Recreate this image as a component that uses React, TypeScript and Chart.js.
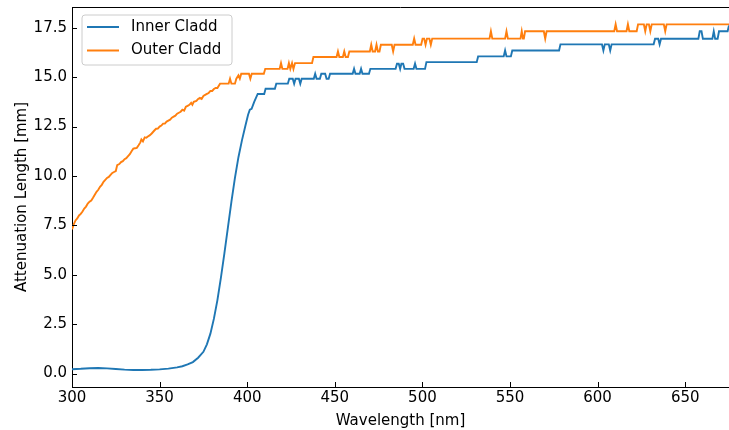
import React, { useEffect, useRef } from "react";
import { Chart, registerables } from "chart.js";

Chart.register(...registerables);

const seriesNames = ["Inner Cladd", "Outer Cladd"];
const seriesColors = ["#1f77b4", "#ff7f0e"];

const innerWavelength = [
  300, 305, 310, 315, 320, 325, 330, 335, 340, 345, 350, 355, 360, 363, 366, 369, 372, 375, 377, 379,
  381, 383, 385, 387, 389, 391, 393, 395, 397, 399, 400.5, 401.5, 402.5, 404, 406, 409.7, 410.5, 415.8, 416.6, 423.2,
  424, 426, 426.8, 427.6, 429.5, 430.3, 431.1, 438, 438.8, 439.6, 441.5, 442.3, 444.5, 445.3, 446.5, 447.3, 460.2, 461, 461.8, 464.2,
  465, 465.8, 469.5, 470.3, 484.7, 485.5, 486.5, 487.3, 488, 489, 489.8, 495, 495.8, 496.6, 501.5, 502.3, 531, 531.8, 546.4, 547.2,
  548, 550.5, 551.3, 578, 578.8, 602.5, 603.3, 604.1, 606.4, 607.2, 608, 632, 632.8, 634.6, 635.4, 636.2, 657.5, 658.3, 659.3, 660.1,
  665.5, 666.3, 667.1, 668.5, 669.3, 674.2, 675,
];
const innerAttenuation = [
  0.22, 0.24, 0.27, 0.28, 0.26, 0.23, 0.2, 0.18, 0.18, 0.19, 0.21, 0.25, 0.31, 0.37, 0.46, 0.58, 0.8, 1.1, 1.48, 2.02,
  2.78, 3.72, 4.85, 6.1, 7.4, 8.7, 9.9, 10.95, 11.8, 12.55, 13.1, 13.35, 13.4, 13.75, 14.15, 14.15, 14.41, 14.41, 14.67, 14.67,
  14.92, 14.92, 14.67, 14.92, 14.92, 14.67, 14.92, 14.92, 15.17, 14.92, 14.92, 15.17, 15.17, 14.92, 14.92, 15.17, 15.17, 15.42, 15.17, 15.17,
  15.42, 15.17, 15.17, 15.42, 15.42, 15.68, 15.68, 15.42, 15.68, 15.68, 15.42, 15.42, 15.68, 15.42, 15.42, 15.76, 15.76, 16.05, 16.05, 16.35,
  16.05, 16.05, 16.35, 16.35, 16.66, 16.66, 16.35, 16.66, 16.66, 16.35, 16.66, 16.66, 16.94, 16.94, 16.66, 16.94, 16.94, 17.32, 17.32, 16.94,
  16.94, 17.32, 16.94, 16.94, 17.32, 17.32, 17.62,
];

const outerWavelength = [
  300, 301, 302, 303, 304, 305, 306, 307, 308, 309, 310, 311, 312, 313, 314, 315, 316, 317, 318, 319,
  320, 321, 322, 323, 324, 325, 325.8, 327, 328, 329, 330, 331, 332, 333, 334, 335, 336, 337, 338, 339,
  339.6, 340.5, 341.5, 342.4, 343.3, 344.3, 345.5, 347, 348, 349, 350, 351, 352, 353, 354, 355, 356, 357, 358, 359,
  360, 361, 362, 363, 364, 365, 366, 367, 368, 368.7, 369.5, 371, 372, 373, 374, 375, 376, 377, 378, 379,
  380, 381, 382, 383, 384.5, 389.4, 390.2, 391, 393, 393.8, 395, 395.8, 396.6, 401, 401.8, 402.6, 409.5, 410.3, 418.5, 419.3,
  420.1, 423, 423.8, 424.6, 425.6, 426.4, 427.3, 437, 437.8, 451, 451.8, 452.6, 454.6, 455.4, 456.2, 457.5, 458.3, 470, 470.8, 471.6,
  473, 473.8, 474.6, 475.5, 476.3, 482.5, 483.3, 484.1, 494.5, 495.3, 496.1, 499.3, 500.1, 501, 501.8, 502.6, 504, 504.8, 505.6, 538.3,
  539.1, 539.9, 547.2, 548, 548.8, 556, 556.7, 557.4, 557.9, 558.6, 569.3, 570.1, 570.9, 609.5, 610.3, 611.1, 616.5, 617.3, 618.1, 622.3,
  623.1, 626.4, 627.2, 628, 629.3, 630.1, 630.9, 637.8, 638.6, 639.4, 675,
];
const outerAttenuation = [
  7.3, 7.55, 7.75, 7.85, 8.0, 8.08, 8.2, 8.35, 8.45, 8.6, 8.7, 8.76, 8.9, 9.05, 9.2, 9.3, 9.45, 9.55, 9.7, 9.8,
  9.9, 9.95, 10.05, 10.15, 10.2, 10.25, 10.55, 10.6, 10.7, 10.75, 10.85, 10.9, 11.0, 11.1, 11.25, 11.38, 11.4, 11.42, 11.55, 11.7,
  11.85, 11.75, 11.95, 11.93, 12.0, 12.05, 12.15, 12.3, 12.39, 12.4, 12.5, 12.55, 12.65, 12.65, 12.75, 12.8, 12.85, 12.95, 13.0, 13.05,
  13.15, 13.2, 13.25, 13.35, 13.3, 13.5, 13.55, 13.6, 13.7, 13.6, 13.75, 13.8, 13.9, 13.95, 13.9, 14.05, 14.1, 14.15, 14.2, 14.3,
  14.3, 14.4, 14.45, 14.45, 14.67, 14.67, 14.92, 14.67, 14.67, 14.92, 15.09, 14.92, 15.17, 15.17, 14.92, 15.17, 15.17, 15.42, 15.42, 15.71,
  15.42, 15.42, 15.71, 15.42, 15.71, 15.42, 15.71, 15.71, 16.02, 16.02, 16.3, 16.02, 16.02, 16.3, 16.02, 16.02, 16.3, 16.3, 16.64, 16.3,
  16.3, 16.64, 16.3, 16.3, 16.64, 16.64, 16.3, 16.64, 16.64, 16.95, 16.64, 16.64, 16.95, 16.95, 16.64, 16.95, 16.95, 16.64, 16.95, 16.95,
  17.32, 16.95, 16.95, 17.32, 16.95, 16.95, 17.32, 16.95, 16.95, 17.32, 17.32, 16.95, 17.32, 17.32, 17.67, 17.32, 17.32, 17.67, 17.32, 17.32,
  17.67, 17.67, 17.32, 17.67, 17.67, 17.32, 17.67, 17.67, 17.32, 17.67, 17.67,
];

const xTicks = [300, 350, 400, 450, 500, 550, 600, 650];
const yTicks = [0, 2.5, 5, 7.5, 10, 12.5, 15, 17.5];
const xTitle = "Wavelength [nm]";
const yTitle = "Attenuation Length [mm]";

const FONT = "'DejaVu Sans', sans-serif";

const framePlugin = {
  id: "frame",
  afterDraw(chart: any) {
    const { ctx, chartArea: a, scales } = chart;
    ctx.save();
    ctx.strokeStyle = "#000";
    ctx.lineWidth = 1;
    ctx.beginPath();
    ctx.moveTo(a.left, a.top + 0.5);
    ctx.lineTo(a.right, a.top + 0.5);
    for (const t of scales.x.ticks) {
      const px = Math.round(scales.x.getPixelForValue(t.value)) + 0.5;
      ctx.moveTo(px, a.bottom);
      ctx.lineTo(px, a.bottom - 5);
    }
    for (const t of scales.y.ticks) {
      const py = Math.round(scales.y.getPixelForValue(t.value)) + 0.5;
      ctx.moveTo(a.left, py);
      ctx.lineTo(a.left + 5, py);
    }
    ctx.stroke();

    // legend
    const lx = a.left + 10, ly = a.top + 8, lw = 150, lh = 50, r = 3;
    ctx.beginPath();
    ctx.moveTo(lx + r, ly);
    ctx.arcTo(lx + lw, ly, lx + lw, ly + lh, r);
    ctx.arcTo(lx + lw, ly + lh, lx, ly + lh, r);
    ctx.arcTo(lx, ly + lh, lx, ly, r);
    ctx.arcTo(lx, ly, lx + lw, ly, r);
    ctx.closePath();
    ctx.fillStyle = "rgba(255,255,255,0.8)";
    ctx.fill();
    ctx.strokeStyle = "#cccccc";
    ctx.lineWidth = 1;
    ctx.stroke();
    ctx.font = "15px " + FONT;
    ctx.textBaseline = "middle";
    ctx.textAlign = "left";
    seriesNames.forEach((name, i) => {
      const yy = ly + 12 + i * 23.5;
      ctx.strokeStyle = seriesColors[i];
      ctx.lineWidth = 2;
      ctx.beginPath();
      ctx.moveTo(lx + 5, yy);
      ctx.lineTo(lx + 37, yy);
      ctx.stroke();
      ctx.fillStyle = "#000";
      ctx.fillText(name, lx + 49, yy);
    });
    ctx.restore();
  },
};

export default function App() {
  const ref = useRef<HTMLCanvasElement>(null);
  useEffect(() => {
    if (!ref.current) return;
    const chart = new Chart(ref.current, {
      type: "line",
      data: {
        datasets: [
          {
            label: seriesNames[0],
            data: innerWavelength.map((x, i) => ({ x, y: innerAttenuation[i] })),
            borderColor: seriesColors[0],
            backgroundColor: seriesColors[0],
            borderWidth: 1.9,
            pointRadius: 0,
            tension: 0,
          },
          {
            label: seriesNames[1],
            data: outerWavelength.map((x, i) => ({ x, y: outerAttenuation[i] })),
            borderColor: seriesColors[1],
            backgroundColor: seriesColors[1],
            borderWidth: 1.9,
            pointRadius: 0,
            tension: 0,
          },
        ],
      },
      options: {
        responsive: false,
        animation: false,
        devicePixelRatio: 1,
        layout: { padding: { top: 7, right: 0, left: 0, bottom: 0 } },
        plugins: { legend: { display: false }, tooltip: { enabled: false } },
        scales: {
          x: {
            type: "linear",
            min: 300,
            max: 675,
            grid: { display: false, drawTicks: false },
            border: { display: true, color: "#000", width: 1 },
            afterBuildTicks: (s: any) => {
              s.ticks = xTicks.map((v) => ({ value: v }));
            },
            afterFit: (s: any) => {
              s.height = 43;
              s.paddingLeft = 0;
              s.paddingRight = 0;
            },
            ticks: {
              color: "#000",
              font: { family: FONT, size: 15 },
              padding: 2,
              maxRotation: 0,
              callback: (v: any) => String(v),
            },
            title: {
              display: true,
              text: xTitle,
              color: "#000",
              font: { family: FONT, size: 15 },
              padding: { top: 0, bottom: 0 },
            },
          },
          y: {
            type: "linear",
            min: -0.68,
            max: 18.55,
            grid: { display: false, drawTicks: false },
            border: { display: true, color: "#000", width: 1 },
            afterBuildTicks: (s: any) => {
              s.ticks = yTicks.map((v) => ({ value: v }));
            },
            afterFit: (s: any) => {
              s.width = 72;
              s.paddingTop = 0;
              s.paddingBottom = 0;
            },
            ticks: {
              color: "#000",
              font: { family: FONT, size: 15 },
              padding: 5,
              callback: (v: any) => Number(v).toFixed(1),
            },
            title: {
              display: true,
              text: yTitle,
              color: "#000",
              font: { family: FONT, size: 15 },
              padding: { top: 13, bottom: 0 },
            },
          },
        },
      },
      plugins: [framePlugin],
    });
    return () => chart.destroy();
  }, []);
  return (
    <div style={{ position: "absolute", left: 0, top: 0, width: 729, height: 430, background: "#fff" }}>
      <canvas ref={ref} width={729} height={430} />
    </div>
  );
}
